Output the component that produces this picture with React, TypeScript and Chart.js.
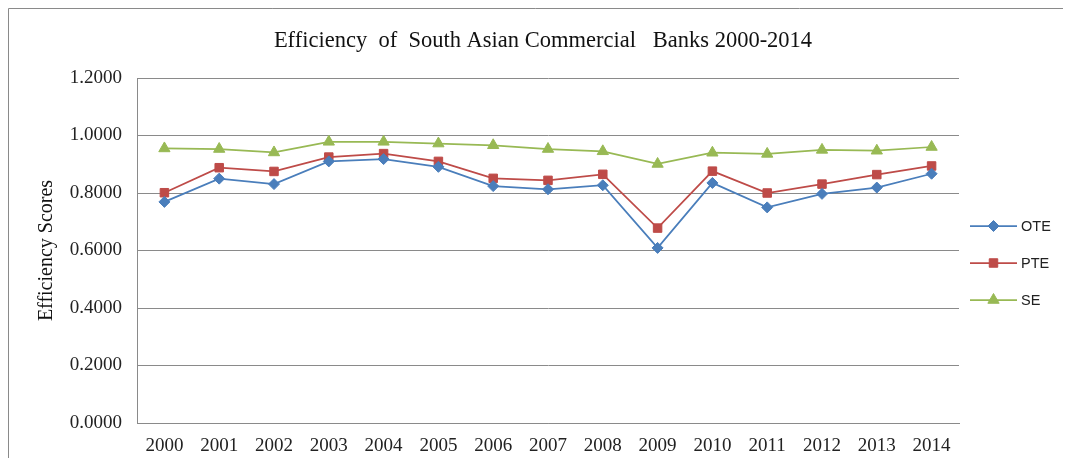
import React, { useEffect, useRef } from "react";
import { Chart, registerables } from "chart.js";
import { drawPoint } from "chart.js/helpers";

Chart.register(...registerables);

const years = ["2000","2001","2002","2003","2004","2005","2006","2007","2008","2009","2010","2011","2012","2013","2014"];
const oteValues = [0.769,0.850,0.831,0.910,0.918,0.891,0.824,0.813,0.827,0.609,0.835,0.750,0.797,0.819,0.867];
const pteValues = [0.801,0.888,0.875,0.925,0.937,0.910,0.851,0.844,0.865,0.678,0.876,0.800,0.831,0.864,0.894];
const seValues = [0.955,0.953,0.941,0.978,0.978,0.972,0.966,0.953,0.945,0.901,0.940,0.936,0.950,0.947,0.960];
const seriesNames = ["OTE", "PTE", "SE"];
const titleText = "Efficiency  of  South Asian Commercial   Banks 2000-2014";
const yAxisTitle = "Efficiency Scores";

const colors = ["#4A7EBB", "#BE4B48", "#98B954"];
const markerStyles = ["rectRot", "rect", "triangle"];
const markerRadius = [5.5, 6, 6.5];
const serif = "'Liberation Serif', 'Times New Roman', serif";

const frameAndLegend = {
  id: "frameAndLegend",
  afterDraw(chart: any) {
    const ctx = chart.ctx;
    ctx.save();
    ctx.strokeStyle = "#8a8a8a";
    ctx.lineWidth = 1;
    ctx.beginPath();
    ctx.moveTo(0.5, chart.height);
    ctx.lineTo(0.5, 0.5);
    ctx.lineTo(chart.width, 0.5);
    ctx.stroke();

    ctx.fillStyle = "#111";
    ctx.font = `22.5px ${serif}`;
    ctx.textAlign = "center";
    ctx.textBaseline = "alphabetic";
    ctx.fillText(titleText, 535, 39);

    const x0 = chart.chartArea.right + 11;
    const lineLen = 47;
    const startY = 218;
    const gap = 37;
    chart.data.datasets.forEach((ds: any, i: number) => {
      const y = startY + i * gap;
      ctx.strokeStyle = ds.borderColor;
      ctx.lineWidth = 1.75;
      ctx.beginPath();
      ctx.moveTo(x0, y);
      ctx.lineTo(x0 + lineLen, y);
      ctx.stroke();
      ctx.fillStyle = ds.backgroundColor;
      ctx.strokeStyle = ds.borderColor;
      ctx.lineWidth = 1;
      drawPoint(ctx, { pointStyle: ds.pointStyle, radius: ds.pointRadius, borderWidth: 1, rotation: 0 } as any, x0 + lineLen / 2, y);
      ctx.fillStyle = "#222";
      ctx.font = "14.5px 'Liberation Sans', Arial, sans-serif";
      ctx.textAlign = "left";
      ctx.textBaseline = "middle";
      ctx.fillText(ds.label, x0 + lineLen + 4, y + 1);
    });
    ctx.restore();
  },
};

export default function App() {
  const canvasRef = useRef<HTMLCanvasElement | null>(null);

  useEffect(() => {
    if (!canvasRef.current) return;
    const seriesData = [oteValues, pteValues, seValues];
    const chart = new Chart(canvasRef.current, {
      type: "line",
      data: {
        labels: years,
        datasets: seriesNames.map((name, i) => ({
          label: name,
          data: seriesData[i],
          borderColor: colors[i],
          backgroundColor: colors[i],
          borderWidth: 1.75,
          pointStyle: markerStyles[i] as any,
          pointRadius: markerRadius[i],
          pointBorderWidth: 1,
          tension: 0,
        })),
      },
      options: {
        animation: false,
        responsive: true,
        maintainAspectRatio: false,
        layout: { padding: { left: 0, right: 104, top: 70, bottom: 0 } },
        plugins: {
          legend: { display: false },
          tooltip: { enabled: false },
          title: { display: false },
        },
        scales: {
          x: {
            offset: true,
            grid: { display: false, drawTicks: false },
            border: { display: true, color: "#8a8a8a", width: 1 },
            ticks: {
              color: "#222",
              padding: 12,
              maxRotation: 0,
              autoSkip: false,
              font: { family: serif, size: 19 },
            },
            afterFit(scale: any) { scale.height = 35; },
          },
          y: {
            min: 0,
            max: 1.2,
            grid: { color: "#8a8a8a", lineWidth: 1, drawTicks: false },
            border: { display: true, color: "#8a8a8a", width: 1 },
            ticks: {
              stepSize: 0.2,
              color: "#222",
              padding: 15,
              font: { family: serif, size: 19 },
              callback: (v: any) => Number(v).toFixed(4),
            },
            title: {
              display: true,
              text: yAxisTitle,
              color: "#111",
              font: { family: serif, size: 20 },
              padding: { top: 27, bottom: 0 },
            },
            afterFit(scale: any) { scale.width = 129; },
          },
        },
      },
      plugins: [frameAndLegend],
    });
    return () => chart.destroy();
  }, []);

  return (
    <div style={{ width: 1055, height: 450, position: "relative" }}>
      <canvas ref={canvasRef} />
    </div>
  );
}
